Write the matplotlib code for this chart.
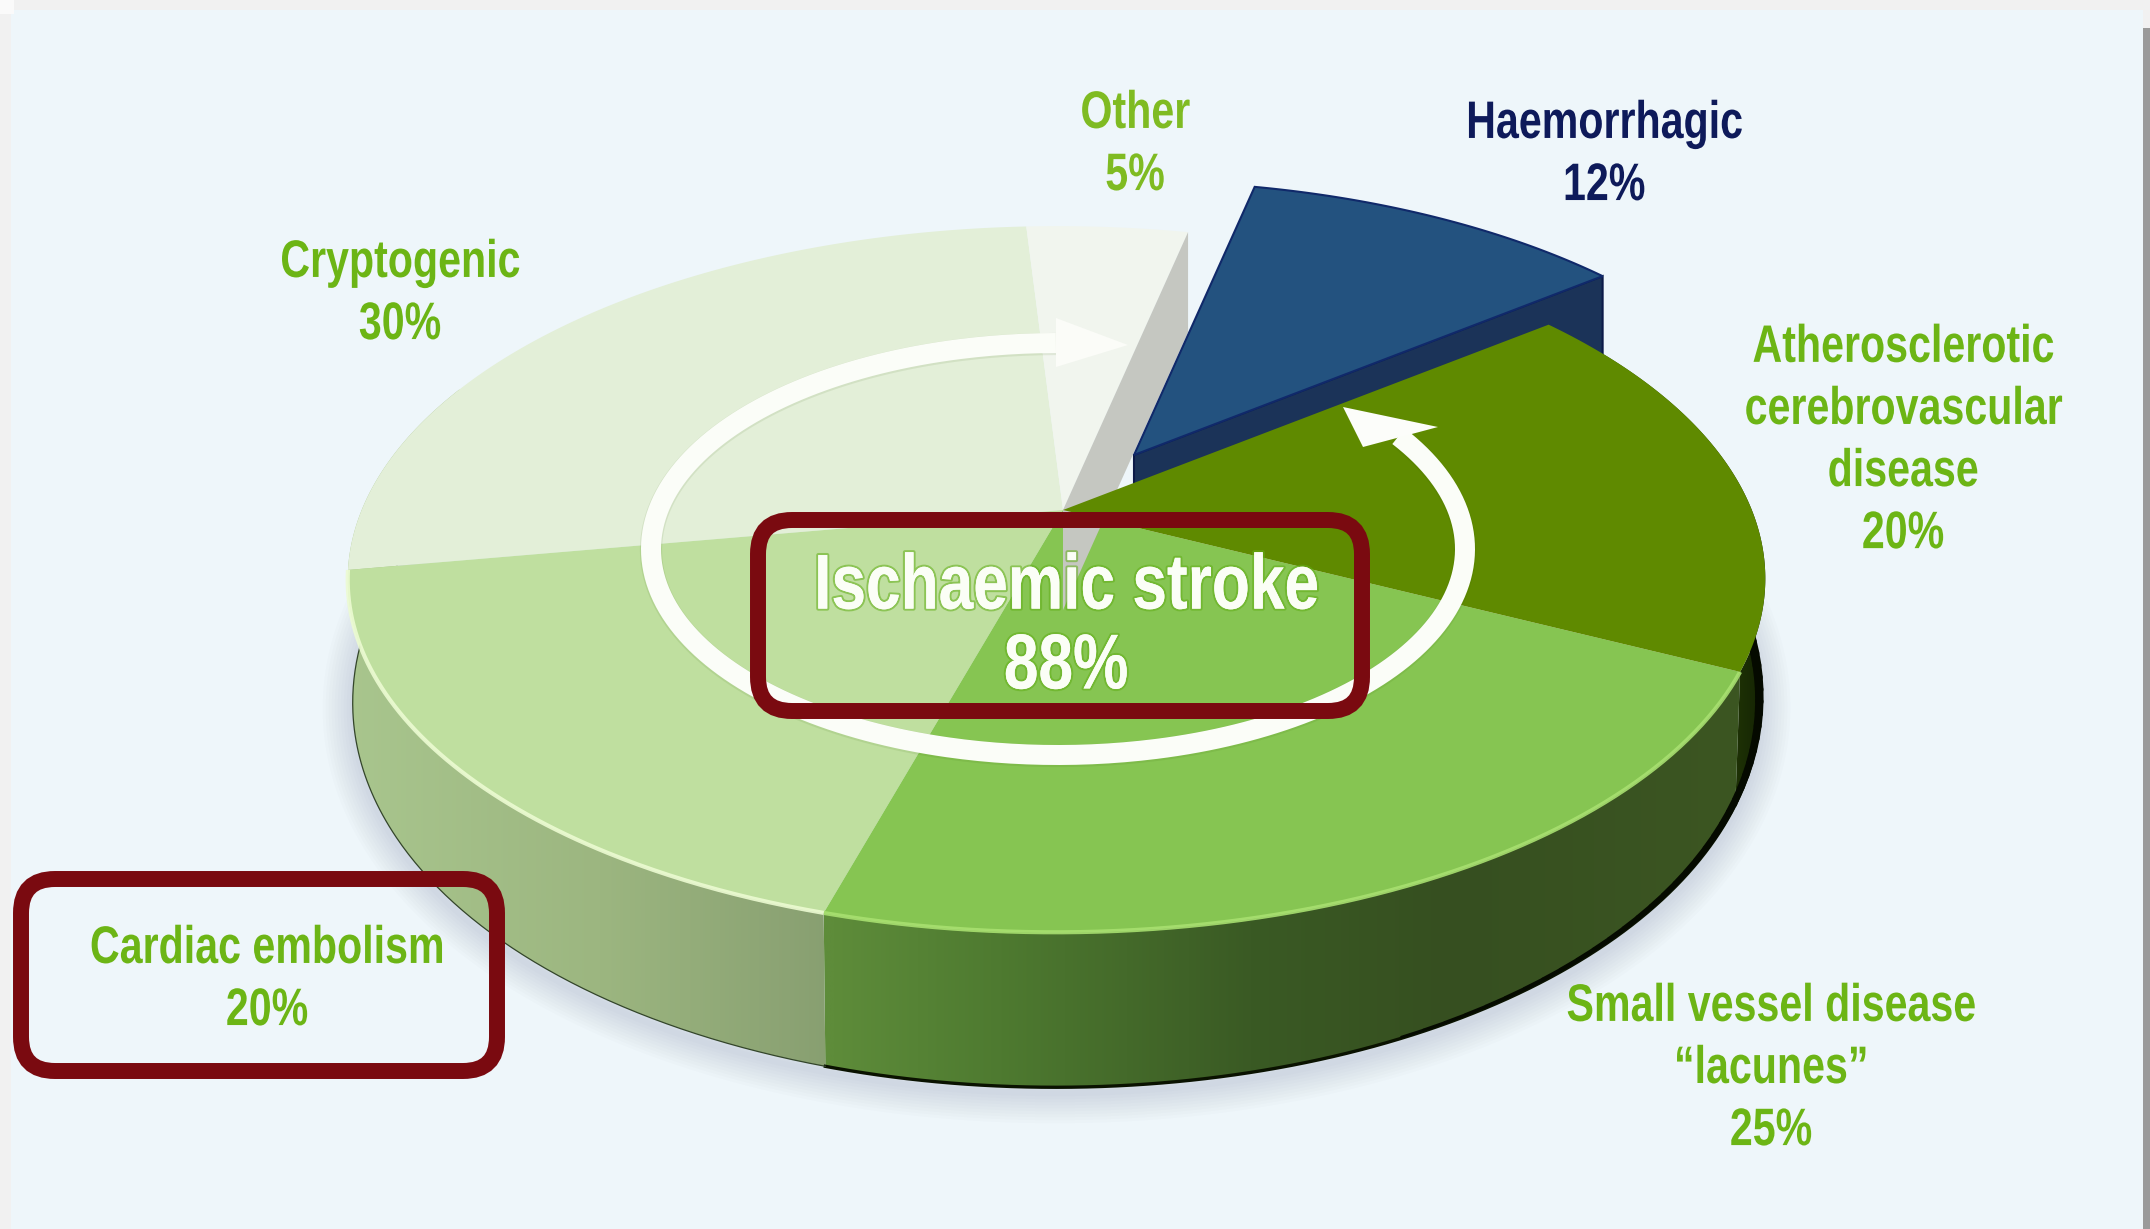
import numpy as np
import matplotlib
matplotlib.use("Agg")
import matplotlib.pyplot as plt
from matplotlib.patches import Polygon, FancyBboxPatch, Rectangle
from matplotlib.colors import LinearSegmentedColormap
from matplotlib.transforms import Affine2D
import matplotlib.patheffects as pe

# ---------- data ----------
ischaemic_names = ["Atherosclerotic cerebrovascular disease", "Small vessel disease", "Cardiac embolism", "Cryptogenic", "Other"]
ischaemic_values = [20, 25, 20, 30, 5]
haemorrhagic_value = 12
ischaemic_total = 88

label_text = [
    "Haemorrhagic\n12%",
    "Other\n5%",
    "Cryptogenic\n30%",
    "Atherosclerotic\ncerebrovascular\ndisease\n20%",
    "Small vessel disease\n\u201clacunes\u201d\n25%",
    "Cardiac embolism\n20%",
]

# ---------- style / layout ----------
W, H = 2150, 1229
CX, CY, A, B, K, M = 1063, 510, 695, 339.5, 0.196, -0.009
D0, D1, BOTTOM_SX = 115, 40, 0.993
GAP_DEG = 3.6
HEM_END = 52.0
HEM_OFF = (71, -55)
HEM_SCALE = 0.965
PANEL = "#EEF6FA"
TOP_COL = ["#5F8A00", "#86C552", "#BFDF9F", "#E3EFD8", "#F1F5EE"]
RED = "#7A0A10"
GREEN = "#6CB515"
NAVY = "#0E1A5A"
FONT = "Liberation Sans"


class Squeeze(pe.AbstractPathEffect):
    """Draw a text line narrower about its own centre, as the condensed face of the original."""

    def __init__(self, sx, children=None):
        super().__init__()
        self.sx = sx
        self.children = children or [pe.Normal()]

    def draw_path(self, renderer, gc, tpath, affine, rgbFace=None):
        ext = tpath.get_extents()
        mid = (ext.x0 + ext.x1) / 2
        squeezed = Affine2D().translate(-mid, 0).scale(self.sx, 1).translate(mid, 0) + affine
        for child in self.children:
            child.draw_path(renderer, gc, tpath, squeezed, rgbFace)


def pt(theta):
    th = np.radians(np.asarray(theta, float))
    c, s = np.sin(th), -np.cos(th)
    w = 1 - K * s - M * c
    return CX + A * c / w, CY + B * s / w, s


def bottom(theta):
    x, y, s = pt(theta)
    return CX + (x - CX) * BOTTOM_SX, y + D0 + D1 * s


def wedge(t0, t1):
    t = np.linspace(t0, t1, 200)
    x, y, _ = pt(t)
    return np.r_[CX, x], np.r_[CY, y]


def grad_fill(ax, xs, ys, stops, z):
    poly = Polygon(np.c_[xs, ys], closed=True, fc="none", ec="none", transform=ax.transData)
    ax.add_patch(poly)
    x0, x1 = xs.min(), xs.max()
    pos = [p for p, _ in stops]
    cols = [c for _, c in stops]
    cmap = LinearSegmentedColormap.from_list("g", list(zip(np.interp(pos, (pos[0], pos[-1]), (0, 1)), cols)))
    g = (np.linspace(x0, x1, 512) - pos[0]) / (pos[-1] - pos[0])
    im = ax.imshow(g[None, :], cmap=cmap, vmin=0, vmax=1, extent=(x0, x1, ys.max(), ys.min()),
                   aspect="auto", zorder=z, interpolation="bilinear")
    im.set_clip_path(poly)


fig = plt.figure(figsize=(W / 100, H / 100), dpi=100, facecolor="#F1F1F1")
ax = fig.add_axes([0, 0, 1, 1])
ax.set_axis_off()

# frame and panel
ax.add_patch(Rectangle((11, 10), 2143 - 11, H - 10, fc=PANEL, ec="none", zorder=0))
ax.add_patch(Rectangle((2143, 28), 7, H - 28, fc="#9A9A9A", ec="none", zorder=0))
ax.add_patch(Rectangle((0, 0), 14, 14, fc="#FAFAFA", ec="none", zorder=0))

# angles: clockwise from the top of the disc
hem_span = haemorrhagic_value * 3.6 - GAP_DEG
isch_span = 360 - hem_span
edges = HEM_END + np.r_[0, np.cumsum(ischaemic_values)] / sum(ischaemic_values) * isch_span

# soft shadow under the disc
t_all = np.linspace(60, 300, 300)
bx, by = bottom(t_all)
for lw in range(60, 0, -6):
    ax.plot(bx, by + 6, color="#5C6C8C", lw=lw * 0.72, alpha=0.018, solid_capstyle="round", zorder=1)

# side faces
side_stops = {
    0: [(1600, "#3A5A10"), (1700, "#2B4508"), (1780, "#0E1A02")],
    1: [(830, "#5E8C3A"), (1000, "#4E7A30"), (1250, "#3A5A24"), (1450, "#364F20"), (1740, "#3C5622")],
    2: [(340, "#A9C68E"), (600, "#9CB680"), (840, "#879E70")],
}
for i in (0, 1, 2):
    t_end = edges[i + 1] if i < 2 else edges[i + 1] + 32
    t = np.linspace(edges[i], t_end, 240)
    x, y, _ = pt(t)
    xb, yb = bottom(t)
    grad_fill(ax, np.r_[x, xb[::-1]], np.r_[y, yb[::-1]], side_stops[i], 2)
    ax.plot(xb, yb, color="#0A1200" if i < 2 else "#33452A", lw=(2.4 if i < 2 else 0.9), zorder=2.1)

# dark band along the shaded right-hand edge, thinning towards the front
ta = np.linspace(edges[0] + 34, edges[1] + 40, 41)
xa, ya = bottom(ta)
for j in range(len(ta) - 1):
    w_ = 5.5 * (1 - j / (len(ta) - 1)) + 1.7
    ax.plot(xa[j:j + 2] - 1, ya[j:j + 2] - w_ / 2, color="#050A00", lw=w_, zorder=2.1, solid_capstyle="round")

# top faces: the ischaemic slices except the one that lies over the haemorrhagic side
for i in (3, 4, 2, 1):
    xs, ys = wedge(edges[i], edges[i + 1])
    ax.add_patch(Polygon(np.c_[xs, ys], closed=True, fc=TOP_COL[i], ec="none", zorder=3))

# bright rim along the front edge
for i, col, lw in ((1, "#A8E070", 3.0), (2, "#ECFBD2", 3.0)):
    t = np.linspace(edges[i], edges[i + 1], 200)
    x, y, _ = pt(t)
    ax.plot(x, y, color=col, lw=lw, alpha=0.9, zorder=3.1, solid_capstyle="butt")

# grey cut wall behind the haemorrhagic slice
wx, wy, _ = pt(edges[-1])
ax.add_patch(Polygon([(wx, wy), (CX, CY), (CX, CY + 100), (wx, wy + 100)], closed=True,
                     fc="#C5C7C1", ec="none", zorder=3.2))

# exploded haemorrhagic slice
hem_t = np.linspace(HEM_END - hem_span, HEM_END, 120)
hx, hy, _ = pt(hem_t)
hax = CX + HEM_OFF[0]
hay = CY + HEM_OFF[1]
hx = hax + (hx - CX) * HEM_SCALE
hy = hay + (hy - CY) * HEM_SCALE
ax.add_patch(Polygon([(hax, hay), (hx[-1], hy[-1]), (hx[-1], hy[-1] + 100), (hax, hay + 35)], closed=True,
                     fc="#1B3358", ec="#0C1A48", lw=1.5, zorder=3.3))
ax.add_patch(Polygon(np.c_[np.r_[hax, hx], np.r_[hay, hy]], closed=True, fc="#23527F", ec="#10296A",
                     lw=1.5, zorder=3.4))

# atherosclerotic slice on top
xs, ys = wedge(edges[0], edges[1])
ax.add_patch(Polygon(np.c_[xs, ys], closed=True, fc=TOP_COL[0], ec="none", zorder=3.5))

# white ring arrows
RING = (1058, 549, 407, 206)
phi = np.radians(np.linspace(56.8, 359.7, 400))
rx = RING[0] + RING[2] * np.sin(phi)
ry = RING[1] - RING[3] * np.cos(phi)
ax.plot(rx, ry + 1, color="#2E5A00", lw=16, alpha=0.09, zorder=3.9, solid_capstyle="butt")
ax.plot(rx, ry, color="#FBFDF8", lw=14.4, zorder=4, solid_capstyle="butt")
ax.add_patch(Polygon([(1056, 318), (1128, 345), (1056, 367)], closed=True, fc="#FBFCF8", ec="none", zorder=4))
ax.add_patch(Polygon([(1343, 407), (1438, 427), (1363, 447)], closed=True, fc="#FCFDFA", ec="none", zorder=4))

# red boxes
for x0, y0, x1, y1 in ((758, 520, 1362, 711), (21, 879, 497, 1071)):
    ax.add_patch(FancyBboxPatch((x0, y0), x1 - x0, y1 - y0, boxstyle="round,pad=0,rounding_size=34",
                                fc="none", ec=RED, lw=11.5, zorder=6))

# labels
label_pos = [(1604, 155, NAVY), (1135, 145, "#7FBB22"), (400, 294, GREEN),
             (1903, 441, GREEN), (1771, 1069, GREEN), (267, 980, GREEN)]
for txt, (x, y, col) in zip(label_text, label_pos):
    t_ = ax.text(x, y, txt, ha="center", va="center", color=col, fontsize=38, fontweight="bold",
                 family=FONT, linespacing=1.31, zorder=7)
    t_.set_path_effects([Squeeze(0.78)])

isch = ax.text(1066, 628, f"Ischaemic stroke\n{ischaemic_total}%", ha="center", va="center", color="#FBFEF6",
               fontsize=56, fontweight="bold", family=FONT, linespacing=1.12, zorder=7)
isch.set_path_effects([Squeeze(0.8, [pe.withStroke(linewidth=3, foreground="#62AE18", alpha=0.55), pe.Normal()])])

ax.set_xlim(0, W)
ax.set_ylim(H, 0)
fig.savefig("out.png", dpi=100, facecolor=fig.get_facecolor())
